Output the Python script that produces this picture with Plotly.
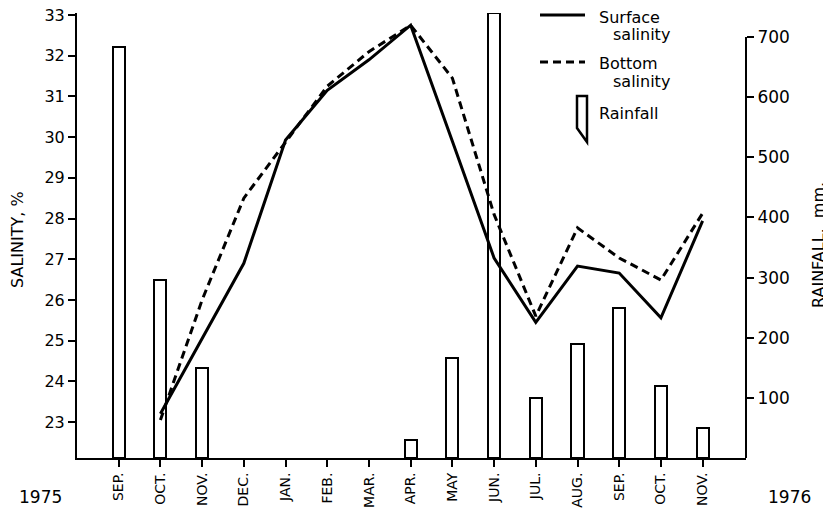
import plotly.graph_objects as go

# ---------------- data ----------------
months = ["SEP.", "OCT.", "NOV.", "DEC.", "JAN.", "FEB.", "MAR.", "APR.",
          "MAY", "JUN.", "JUL.", "AUG.", "SEP.", "OCT.", "NOV."]
month_idx = list(range(len(months)))

# rainfall, mm (None = no rainfall bar)
rainfall = [684, 296, 150, None, None, None, None, 30,
            166, 740, 100, 190, 250, 120, 50]

# salinity, from OCT. 1975 to NOV. 1976
sal_idx = list(range(1, 15))
surface_salinity = [23.2, 25.05, 26.9, 29.93, 31.15, 31.9, 32.75,
                    29.9, 27.03, 25.45, 26.83, 26.66, 25.56, 27.94]
bottom_salinity = [23.05, 26.0, 28.5, 29.88, 31.25, 32.1, 32.75,
                   31.45, 28.1, 25.6, 27.77, 27.03, 26.49, 28.13]

sal_ticks = list(range(23, 34))
rain_ticks = [100, 200, 300, 400, 500, 600, 700]

# ---------------- layout geometry ----------------
# page body has an 8px default margin, so the figure starts at (8, 8)
OFF = 8
WIN_W, WIN_H = 831, 517
W, H = WIN_W - OFF, WIN_H - 2 * OFF
# plot area in window pixels: x 77..746, y 13..458
PX0, PX1, PY0, PY1 = 77, 746, 13, 458
L, T = PX0 - OFF, PY0 - OFF
R, B = W - (PX1 - OFF), H - (PY1 - OFF)
PW, PH = PX1 - PX0, PY1 - PY0
FONT = "DejaVu Sans"


def px(x):
    return (x - PX0) / PW


def py(y):
    return (PY1 - y) / PH


fig = go.Figure()

fig.add_trace(go.Bar(
    x=month_idx, y=rainfall, width=0.29, yaxis="y",
    marker=dict(color="white", line=dict(color="black", width=2)),
    name="Rainfall", showlegend=False,
))
fig.add_trace(go.Scatter(
    x=sal_idx, y=surface_salinity, yaxis="y2", mode="lines",
    line=dict(color="black", width=3), name="Surface salinity", showlegend=False,
))
fig.add_trace(go.Scatter(
    x=sal_idx, y=bottom_salinity, yaxis="y2", mode="lines",
    line=dict(color="black", width=3, dash="8px,5px"),
    name="Bottom salinity", showlegend=False,
))

shapes = [
    # right axis line, ending at 700
    dict(type="line", xref="paper", yref="y", x0=1, x1=1, y0=0, y1=700,
         line=dict(color="black", width=2)),
    # legend: solid line
    dict(type="line", xref="paper", yref="paper", x0=px(540), x1=px(585),
         y0=py(15), y1=py(15), line=dict(color="black", width=3)),
    # legend: dashed line
    dict(type="line", xref="paper", yref="paper", x0=px(540), x1=px(585),
         y0=py(62), y1=py(62), line=dict(color="black", width=3, dash="8px,5px")),
    # legend: rainfall symbol
    dict(type="path", xref="paper", yref="paper",
         path=(f"M {px(577)},{py(128)} L {px(577)},{py(96)} L {px(587)},{py(96)} "
               f"L {px(587)},{py(142)} Z"),
         fillcolor="white", line=dict(color="black", width=2.5)),
]

ann_font = dict(family=FONT, size=16, color="black")
annotations = [
    dict(text="Surface", x=px(597), y=py(17), xanchor="left", yanchor="middle"),
    dict(text="salinity", x=px(611), y=py(35), xanchor="left", yanchor="middle"),
    dict(text="Bottom", x=px(597), y=py(63), xanchor="left", yanchor="middle"),
    dict(text="salinity", x=px(611), y=py(82), xanchor="left", yanchor="middle"),
    dict(text="Rainfall", x=px(597), y=py(114), xanchor="left", yanchor="middle"),
    dict(text="1975", x=px(40), y=py(497), xanchor="center", yanchor="middle",
         font=dict(family=FONT, size=17, color="black")),
    dict(text="1976", x=px(790), y=py(497), xanchor="center", yanchor="middle",
         font=dict(family=FONT, size=17, color="black")),
    dict(text="SALINITY, %", x=px(17), y=py(240), xanchor="center",
         yanchor="middle", textangle=-90),
    dict(text="RAINFALL,  mm.", x=px(818), y=py(245), xanchor="center",
         yanchor="middle", textangle=-90),
]
for a in annotations:
    a.update(xref="paper", yref="paper", showarrow=False)
    a.setdefault("font", ann_font)

fig.update_layout(
    width=W, height=H,
    margin=dict(l=L, r=R, t=T, b=B, pad=0, autoexpand=False),
    paper_bgcolor="white", plot_bgcolor="white",
    showlegend=False,
    bargap=0,
    font=dict(family=FONT, size=16, color="black"),
    xaxis=dict(
        range=[-1, 15.04], tickmode="array", tickvals=month_idx, ticktext=months,
        tickangle=-90, ticks="outside", ticklen=7, tickwidth=1.5, tickcolor="black",
        showline=True, linecolor="black", linewidth=2, showgrid=False,
        zeroline=False, automargin=False, ticklabeloverflow="allow",
        tickfont=dict(family=FONT, size=14, color="black"),
    ),
    yaxis=dict(
        side="right", range=[0, 740], tickmode="array", tickvals=rain_ticks,
        ticks="outside", ticklen=7, tickwidth=1.5, tickcolor="black",
        showline=False, showgrid=False, zeroline=False, automargin=False,
        ticklabeloverflow="allow",
        tickfont=dict(family=FONT, size=17, color="black"),
    ),
    yaxis2=dict(
        side="left", overlaying="y", range=[22.115, 33.05], tickmode="array",
        tickvals=sal_ticks, ticks="outside", ticklen=7, tickwidth=1.5,
        tickcolor="black", showline=True, linecolor="black", linewidth=2,
        showgrid=False, zeroline=False, automargin=False,
        ticklabeloverflow="allow",
        tickfont=dict(family=FONT, size=16, color="black"),
    ),
    shapes=shapes,
    annotations=annotations,
)

fig.write_html("out.html")
